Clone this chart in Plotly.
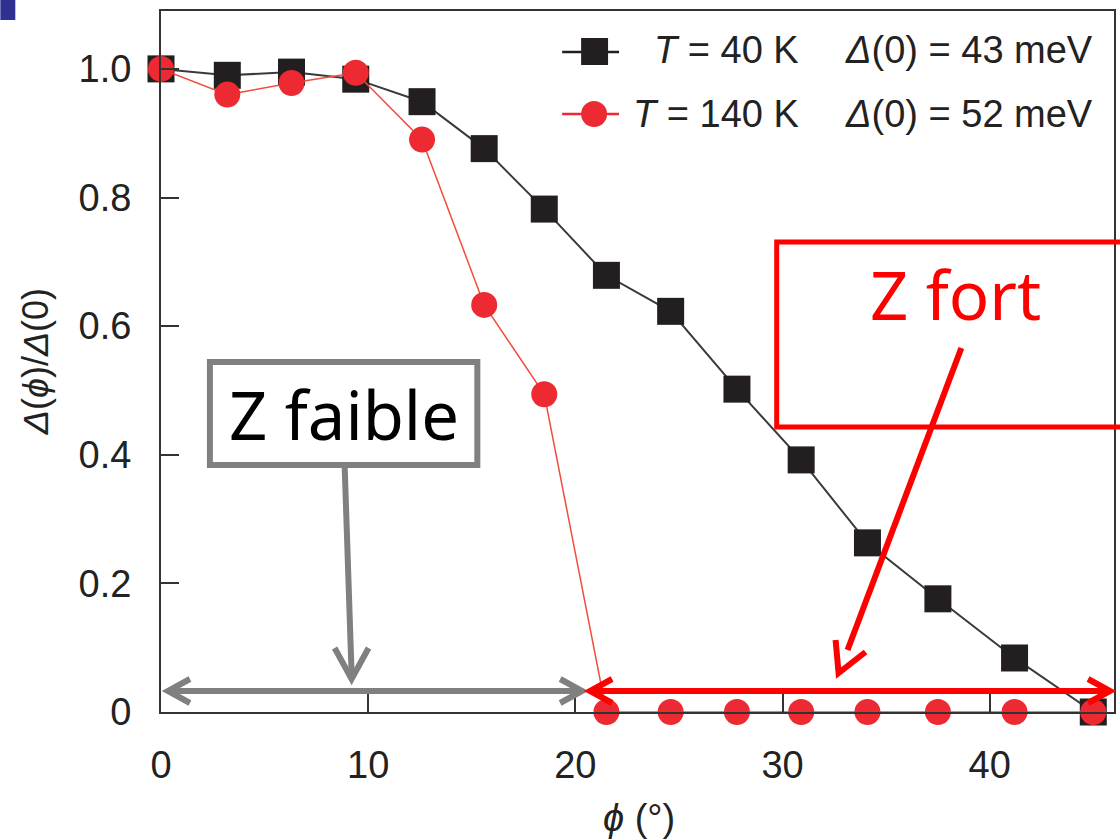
import plotly.graph_objects as go

# Angle along the Fermi surface (degrees) and normalised gap for the two temperatures
phi_deg = [0, 3.2, 6.3, 9.4, 12.6, 15.6, 18.5, 21.5, 24.6, 27.8, 30.9, 34.1, 37.5, 41.2, 45.0]
gap_40K = [1.0, 0.99, 0.995, 0.984, 0.949, 0.876, 0.782, 0.679, 0.623, 0.502, 0.392, 0.263, 0.176, 0.084, 0.0]
gap_140K = [1.0, 0.960, 0.978, 0.994, 0.890, 0.633, 0.494, 0.0, 0.0, 0.0, 0.0, 0.0, 0.0, 0.0, 0.0]

x_tick_vals = [0, 10, 20, 30, 40]
y_tick_vals = [0, 0.2, 0.4, 0.6, 0.8, 1.0]
y_tick_text = ["0", "0.2", "0.4", "0.6", "0.8", "1.0"]

W, H = 1120, 840
ML, MR, MT, MB = 161, 4, 11, 128
PW, PH = W - ML - MR, H - MT - MB

BLACK = "#231f20"
RED = "#ed2a31"
GRAY = "#808080"
PURE_RED = "#ff0000"
AXIS = "#333333"
TICK_FONT = dict(family="Liberation Sans, Arial, sans-serif", size=38, color="#222222")
NOTE_FONT = "Noto Sans, Open Sans, sans-serif"


def fx(px):
    return (px - ML) / PW


def fy(py):
    return (H - MB - py) / PH


def path(points):
    pts = " L ".join(f"{fx(x):.5f},{fy(y):.5f}" for x, y in points)
    return "M " + pts


fig = go.Figure()
fig.add_trace(go.Scatter(
    x=phi_deg, y=gap_40K, mode="lines+markers", cliponaxis=False,
    line=dict(color="#3a3a3a", width=2),
    marker=dict(symbol="square", size=27, color=BLACK, line=dict(width=0)),
    name="T = 40 K", showlegend=False,
))
fig.add_trace(go.Scatter(
    x=phi_deg, y=gap_140K, mode="lines+markers", cliponaxis=False,
    line=dict(color="#f04e3c", width=1.5),
    marker=dict(symbol="circle", size=26, color=RED, line=dict(width=0)),
    name="T = 140 K", showlegend=False,
))

shapes = []


def rect(x0, y0, x1, y1, **kw):
    shapes.append(dict(type="rect", xref="paper", yref="paper",
                       x0=fx(x0), x1=fx(x1), y0=fy(y1), y1=fy(y0), **kw))


def seg(x0, y0, x1, y1, color, width):
    shapes.append(dict(type="line", xref="paper", yref="paper",
                       x0=fx(x0), y0=fy(y0), x1=fx(x1), y1=fy(y1),
                       line=dict(color=color, width=width)))


def poly(points, color, width):
    shapes.append(dict(type="path", xref="paper", yref="paper", path=path(points),
                       line=dict(color=color, width=width), fillcolor="rgba(0,0,0,0)"))


# slide corner mark
rect(0, 0, 15, 20, fillcolor="#2e3192", line=dict(width=0))

# legend symbols
seg(563, 52, 620, 52, BLACK, 2.5)
rect(582, 38, 609, 65, fillcolor=BLACK, line=dict(width=0))
seg(563, 114, 620, 114, RED, 2.5)
shapes.append(dict(type="circle", xref="paper", yref="paper",
                   x0=fx(582), x1=fx(608), y0=fy(127), y1=fy(101),
                   fillcolor=RED, line=dict(width=0)))

# weak-coupling region: box, pointer and span
rect(210, 362, 478, 465, fillcolor="white", line=dict(color=GRAY, width=6))
seg(345, 465, 352, 674, GRAY, 6)
poly([(335, 648), (352, 679), (369, 648)], GRAY, 6)
seg(172, 691, 579, 691, GRAY, 6)
poly([(190, 679), (168, 691), (190, 703)], GRAY, 6)
poly([(561, 679), (583, 691), (561, 703)], GRAY, 6)

# strong-coupling region: box, pointer and span
rect(778, 242, 1128, 427, fillcolor="rgba(0,0,0,0)", line=dict(color=PURE_RED, width=5))
seg(963, 348, 849, 650, PURE_RED, 6)
poly([(837, 640), (840, 673), (867, 652)], PURE_RED, 6)
seg(595, 691, 1109, 691, PURE_RED, 6)
poly([(613, 679), (591, 691), (613, 703)], PURE_RED, 6)
poly([(1090, 679), (1112, 691), (1090, 703)], PURE_RED, 6)

annotations = []


def note(text, x, y, size, color="#222222", family=TICK_FONT["family"], xanchor="center", angle=0):
    annotations.append(dict(text=text, xref="paper", yref="paper", x=fx(x), y=fy(y),
                            xanchor=xanchor, yanchor="middle", showarrow=False,
                            textangle=angle, font=dict(family=family, size=size, color=color)))


nb = "\u00a0"
note(f"<i>T</i>{nb}={nb}40{nb}K", 802, 50, 38, xanchor="right")
note(f"<i>Δ</i>(0){nb}={nb}43{nb}meV", 844, 50, 38, xanchor="left")
note(f"<i>T</i>{nb}={nb}140{nb}K", 802, 114, 38, xanchor="right")
note(f"<i>Δ</i>(0){nb}={nb}52{nb}meV", 844, 114, 38, xanchor="left")

note("Z faible", 344, 414, 67, color="#000000", family=NOTE_FONT)
note("Z fort", 957, 294, 67, color=PURE_RED, family=NOTE_FONT)

note("<i>Δ</i>(<i>ϕ</i>)/<i>Δ</i>(0)", 36, 362, 36, angle=-90)
note(f"<i>ϕ</i>{nb}(°)", 640, 818, 38)

axis_common = dict(
    showline=True, linecolor=AXIS, linewidth=2, mirror=True,
    ticks="inside", ticklen=18, tickwidth=2, tickcolor=AXIS,
    showgrid=False, zeroline=False, tickfont=TICK_FONT,
)

fig.update_layout(
    width=W, height=H,
    margin=dict(l=ML, r=MR, t=MT, b=MB, pad=0),
    paper_bgcolor="white", plot_bgcolor="white",
    showlegend=False,
    xaxis=dict(range=[0, 46], tickvals=x_tick_vals, ticklabelstandoff=18, **axis_common),
    yaxis=dict(range=[0, 1.09], tickvals=y_tick_vals, ticktext=y_tick_text,
               ticklabelstandoff=20, **axis_common),
    shapes=shapes,
    annotations=annotations,
)

fig.write_html("out.html")
